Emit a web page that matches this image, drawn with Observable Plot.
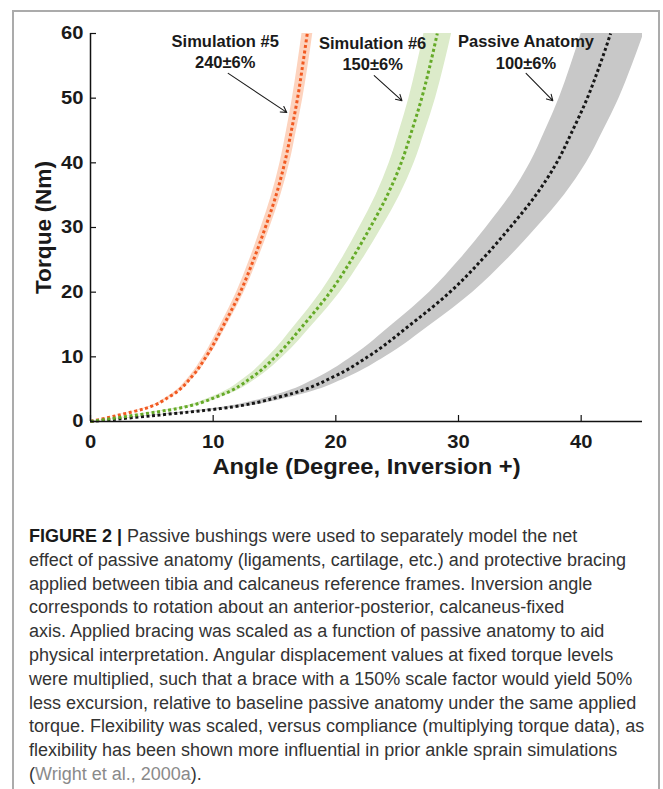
<!DOCTYPE html>
<html>
<head>
<meta charset="utf-8">
<script src="https://cdn.jsdelivr.net/npm/d3@7"></script>
<script src="https://cdn.jsdelivr.net/npm/@observablehq/plot@0.6"></script>
<style>
  html, body { margin: 0; padding: 0; background: #fff; }
  body { width: 663px; height: 789px; position: relative; overflow: hidden; }
  #frame { position: absolute; left: 12px; top: 10px; width: 648px; height: 800px;
           border: 2px solid #ababab; border-bottom: none; box-sizing: border-box; }
  #chart { position: absolute; left: 0; top: 0; }
  #caption { position: absolute; left: 29px; top: 525px; width: 630px;
             font-family: "Liberation Sans", Arial, sans-serif; font-size: 18px;
             line-height: 23.8px; color: #333; white-space: nowrap; }
  #caption b { color: #1a1a1a; }
  #caption .ref { color: #8a8a8a; }
</style>
</head>
<body>
<div id="frame"></div>
<div id="chart"></div>
<div id="caption">
<b>FIGURE 2 |</b> Passive bushings were used to separately model the net<br>
effect of passive anatomy (ligaments, cartilage, etc.) and protective bracing<br>
applied between tibia and calcaneus reference frames. Inversion angle<br>
corresponds to rotation about an anterior-posterior, calcaneus-fixed<br>
axis. Applied bracing was scaled as a function of passive anatomy to aid<br>
physical interpretation. Angular displacement values at fixed torque levels<br>
were multiplied, such that a brace with a 150% scale factor would yield 50%<br>
less excursion, relative to baseline passive anatomy under the same applied<br>
torque. Flexibility was scaled, versus compliance (multiplying torque data), as<br>
flexibility has been shown more influential in prior ankle sprain simulations<br>
(<span class="ref">Wright et al., 2000a</span>).
</div>
<script>
const torque = [0, 1, 2, 4, 7, 10, 15, 20, 25, 30, 35, 40, 45, 50, 55, 60];

// Passive Anatomy (100±6%)
const passiveAngle = [0, 5.6, 10.6, 15.8, 19.9, 22.6, 26.1, 29.3, 31.9, 34.2, 36.3, 38.0, 39.3, 40.5, 41.5, 42.4];
const passiveLow   = [0, 5.28, 10.0, 14.91, 18.77, 21.32, 24.62, 27.64, 30.09, 32.26, 34.25, 35.85, 37.08, 38.21, 39.15, 40.0];
const passiveHigh  = [0, 5.96, 11.28, 16.81, 21.17, 24.04, 27.77, 31.17, 33.94, 36.38, 38.62, 40.43, 41.81, 43.09, 44.15, 45.11];

// Simulation #6 (150±6%)
const sim6Angle = [0, 3.73, 7.07, 10.53, 13.27, 15.07, 17.40, 19.53, 21.27, 22.80, 24.20, 25.33, 26.20, 27.00, 27.67, 28.27];
const sim6Low   = [0, 3.59, 6.79, 10.13, 12.76, 14.49, 16.73, 18.78, 20.45, 21.92, 23.27, 24.36, 25.19, 25.96, 26.60, 27.18];
const sim6High  = [0, 3.89, 7.36, 10.97, 13.82, 15.69, 18.13, 20.35, 22.15, 23.75, 25.21, 26.39, 27.29, 28.13, 28.82, 29.44];

// Simulation #5 (240±6%)
const sim5Angle = [0, 2.33, 4.42, 6.58, 8.29, 9.42, 10.88, 12.21, 13.29, 14.25, 15.13, 15.83, 16.38, 16.88, 17.29, 17.67];
const sim5Low   = [0, 2.28, 4.31, 6.42, 8.09, 9.19, 10.61, 11.91, 12.97, 13.90, 14.76, 15.45, 15.98, 16.46, 16.87, 17.24];
const sim5High  = [0, 2.39, 4.53, 6.75, 8.50, 9.66, 11.15, 12.52, 13.63, 14.62, 15.51, 16.24, 16.79, 17.31, 17.74, 18.12];

const xTicks = [0, 10, 20, 30, 40];
const yTicks = [0, 10, 20, 30, 40, 50, 60];
const xTitle = "Angle (Degree, Inversion +)";
const yTitle = "Torque (Nm)";

// Annotation labels (data coordinates: angle, torque)
const labelNames  = ["Simulation #5", "Simulation #6", "Passive Anatomy"];
const labelValues = ["240±6%", "150±6%", "100±6%"];
const labelX      = [10.98, 23.0, 35.5];
const labelY1     = [57.85, 57.6, 57.85];
const labelY2     = [54.7, 54.3, 54.5];
const arrowX1 = [11.23, 23.13, 35.51];
const arrowY1 = [53.83, 53.48, 53.83];
const arrowX2 = [16.0, 25.39, 37.69];
const arrowY2 = [47.8, 49.61, 49.61];

function rows(center, lo, hi) {
  return torque.map((t, i) => ({t, a: center[i], lo: lo[i], hi: hi[i]}));
}
const passive = rows(passiveAngle, passiveLow, passiveHigh);
const sim6 = rows(sim6Angle, sim6Low, sim6High);
const sim5 = rows(sim5Angle, sim5Low, sim5High);
const labels = labelNames.map((n, i) => ({n, v: labelValues[i], x: labelX[i], y1: labelY1[i], y2: labelY2[i]}));
const arrows = arrowX1.map((x, i) => ({x1: x, y1: arrowY1[i], x2: arrowX2[i], y2: arrowY2[i]}));

const font = "'Liberation Sans', Arial, sans-serif";
const curve = "monotone-y";
const dotted = {strokeWidth: 3, strokeDasharray: "3 2.6", strokeLinecap: "butt", curve};

const chart = Plot.plot({
  width: 663,
  height: 490,
  marginLeft: 90,
  marginRight: 21,
  marginTop: 33,
  marginBottom: 69,
  style: {fontFamily: font, background: "transparent", overflow: "visible"},
  x: {domain: [0, 45], label: null},
  y: {domain: [0, 60], label: null},
  marks: [
    Plot.areaX(passive, {y: "t", x1: "lo", x2: "hi", fill: "#c8c8c8", curve, clip: true}),
    Plot.areaX(sim6, {y: "t", x1: "lo", x2: "hi", fill: "#dcebca", curve, clip: true}),
    Plot.areaX(sim5, {y: "t", x1: "lo", x2: "hi", fill: "#fdd3be", curve, clip: true}),
    Plot.line(passive, {x: "a", y: "t", stroke: "#161616", ...dotted}),
    Plot.line(sim5, {x: "a", y: "t", stroke: "#f15a22", ...dotted}),
    Plot.line(sim6, {x: "a", y: "t", stroke: "#65aa28", ...dotted}),
    Plot.ruleX([0], {y1: 0, y2: 60, stroke: "#111", strokeWidth: 1.5}),
    Plot.ruleY([0], {x1: 0, x2: 45, stroke: "#111", strokeWidth: 1.5}),
    Plot.axisX({ticks: xTicks, tickSize: -6, tickFormat: () => "", stroke: "#111", strokeWidth: 1.2}),
    Plot.axisY({ticks: yTicks, tickSize: -6, tickFormat: () => "", stroke: "#111", strokeWidth: 1.2}),
    Plot.axisX({ticks: xTicks, tickSize: 0, tickPadding: 14, fontSize: 18, fontWeight: "bold", fill: "#1a1a1a", label: null}),
    Plot.axisY({ticks: yTicks, tickSize: 0, tickPadding: 7, fontSize: 18, fontWeight: "bold", fill: "#1a1a1a", label: null}),
    Plot.text([xTitle], {frameAnchor: "bottom", dy: 52, fontSize: 21.5, fontWeight: "bold", fill: "#1a1a1a"}),
    Plot.text([yTitle], {frameAnchor: "left", textAnchor: "middle", dx: -46, rotate: -90, fontSize: 21.5, fontWeight: "bold", fill: "#1a1a1a"}),
    Plot.arrow(arrows, {x1: "x1", y1: "y1", x2: "x2", y2: "y2", stroke: "#1a1a1a", strokeWidth: 1.1, headLength: 9}),
    Plot.text(labels, {x: "x", y: "y1", text: "n", lineAnchor: "bottom", fontSize: 16.5, fontWeight: "bold", fill: "#1a1a1a"}),
    Plot.text(labels, {x: "x", y: "y2", text: "v", lineAnchor: "bottom", fontSize: 16.5, fontWeight: "bold", fill: "#1a1a1a"})
  ]
});
document.getElementById("chart").appendChild(chart);

// Axis text in the original is a touch wider than Liberation Sans Bold: stretch horizontally.
function stretchText(el, factor) {
  const w = el.getComputedTextLength();
  if (w > 0) {
    el.setAttribute("textLength", (w * factor).toFixed(2));
    el.setAttribute("lengthAdjust", "spacingAndGlyphs");
  }
}
chart.querySelectorAll('g[aria-label="x-axis tick label"] text, g[aria-label="y-axis tick label"] text')
  .forEach(t => stretchText(t, 1.12));
chart.querySelectorAll("text").forEach(t => {
  const s = t.textContent.trim();
  if (s === xTitle) stretchText(t, 1.105);
  else if (s === yTitle) stretchText(t, 1.055);
});
</script>
</body>
</html>
